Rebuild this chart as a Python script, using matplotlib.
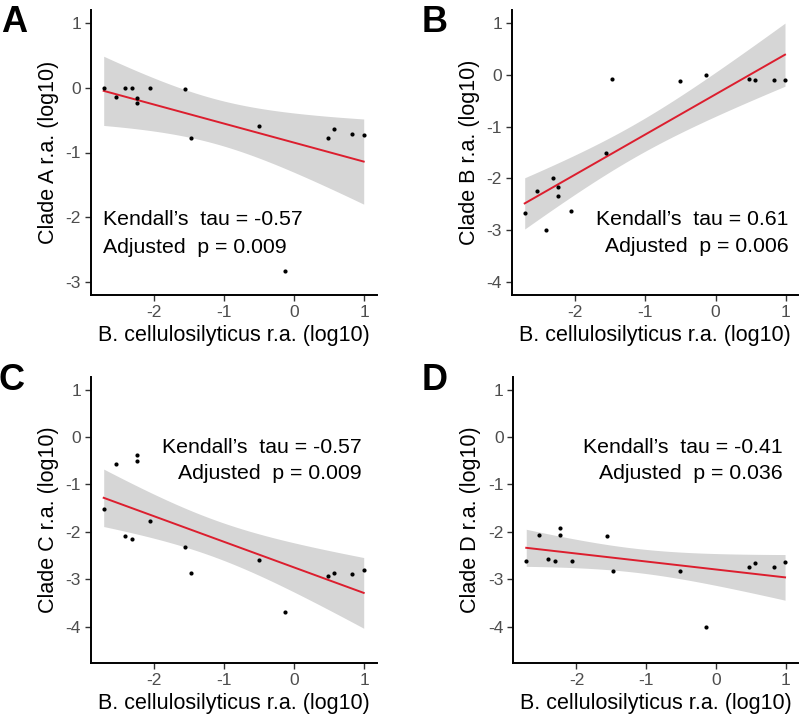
import numpy as np
import matplotlib
matplotlib.use("Agg")
import matplotlib.pyplot as plt

plt.rcParams['font.family'] = ['Liberation Sans', 'DejaVu Sans']

# shared x: B. cellulosilyticus r.a. (log10)
x_bcell = [-2.72, -2.54, -2.41, -2.31, -2.24, -2.24, -2.06, -1.56, -1.48,
           -0.51, -0.14, 0.48, 0.56, 0.83, 0.99]

clade_a = [0.0, -0.14, 0.0, 0.0, -0.16, -0.24, 0.0, -0.015, -0.78,
           -0.59, -2.83, -0.78, -0.64, -0.72, -0.73]
clade_b = [-2.66, -2.24, -3.0, -1.99, -2.16, -2.33, -2.62, -1.50, -0.08,
           -0.12, 0.0, -0.08, -0.11, -0.10, -0.10]
clade_c = [-1.52, -0.56, -2.08, -2.15, -0.37, -0.51, -1.78, -2.31, -2.86,
           -2.59, -3.70, -2.93, -2.86, -2.89, -2.80]
clade_d = [-2.61, -2.07, -2.58, -2.62, -1.91, -2.07, -2.62, -2.08, -2.83,
           -2.83, -4.00, -2.74, -2.66, -2.74, -2.64]

panel_letters = ["A", "B", "C", "D"]
clade_names = ["A", "B", "C", "D"]
taus = ["-0.57", "0.61", "-0.57", "-0.41"]
pvals = ["0.009", "0.006", "0.009", "0.036"]
ylims = [(-3, 1), (-4, 1), (-4.5, 1), (-4.5, 1)]
yticks = [[-3, -2, -1, 0, 1], [-4, -3, -2, -1, 0, 1],
          [-4, -3, -2, -1, 0, 1], [-4, -3, -2, -1, 0, 1]]
xticks = [-2, -1, 0, 1]

fig = plt.figure(figsize=(8, 7.15), dpi=100)

W, H = 800, 715
def rect(l, t, r, b):
    return [l / W, 1 - b / H, (r - l) / W, (b - t) / H]

rects = [rect(90.7, 10, 376.7, 295), rect(511.7, 10, 798, 295),
         rect(90.7, 376.7, 376.7, 663.3), rect(513.3, 376.7, 798, 663.3)]
ylab_x = [-0.149, -0.146, -0.149, -0.149]
letter_pos = [(14, 22), (435, 22), (12, 381), (435, 381)]
# annotation: (x, y_top_line, y_bottom_line, ha)
annot = [(-2.73, -2.04, -2.46, 'left'), (1.04, -2.80, -3.32, 'right'),
         (0.96, -0.22, -0.76, 'right'), (0.96, -0.22, -0.77, 'right')]

series = [clade_a, clade_b, clade_c, clade_d]
t_crit = 2.160  # t(0.975, df=13)

x = np.array(x_bcell)
for i, ys in enumerate(series):
    y = np.array(ys)
    ax = fig.add_axes(rects[i])
    n = len(x)
    xm = x.mean()
    sxx = ((x - xm) ** 2).sum()
    b1 = ((x - xm) * (y - y.mean())).sum() / sxx
    b0 = y.mean() - b1 * xm
    resid = y - (b0 + b1 * x)
    s = np.sqrt((resid ** 2).sum() / (n - 2))
    xs = np.linspace(x.min(), x.max(), 100)
    yh = b0 + b1 * xs
    se = s * np.sqrt(1 / n + (xs - xm) ** 2 / sxx)
    ax.fill_between(xs, yh - t_crit * se, yh + t_crit * se, color='#D6D6D6',
                    lw=0, zorder=1)
    ax.plot(xs, yh, color='#DC1E2E', lw=1.4, zorder=2)
    ax.scatter(x, y, s=9, color='black', zorder=3, lw=0)

    lo, hi = ylims[i]
    ey = (hi - lo) * 0.05
    ax.set_ylim(lo - ey, hi + ey)
    ax.set_xlim(-2.72 - 0.1855, 0.99 + 0.1855)
    ax.set_xticks(xticks)
    ax.set_yticks(yticks[i])
    ax.set_xticklabels([str(v) for v in xticks])
    ax.set_yticklabels([str(v) for v in yticks[i]])
    for sp in ['top', 'right']:
        ax.spines[sp].set_visible(False)
    for sp in ['left', 'bottom']:
        ax.spines[sp].set_linewidth(1.4)
        ax.spines[sp].set_color('black')
    ax.tick_params(axis='both', length=4, width=1.0, color='#333333',
                   labelsize=12.5, labelcolor='#4D4D4D', pad=3)
    ax.set_xlabel("B. cellulosilyticus r.a. (log10)", fontsize=15.5)
    ax.xaxis.label.set_va('center')
    ax.xaxis.set_label_coords(0.5, -0.142)
    ax.set_ylabel(f"Clade {clade_names[i]} r.a. (log10)", fontsize=15.5)
    ax.yaxis.label.set_va('center')
    ax.yaxis.set_label_coords(ylab_x[i], 0.5)

    ax_x, y1, y2, ha = annot[i]
    ax.text(ax_x, y1, f"Kendall\u2019s  tau = {taus[i]}", fontsize=15.3,
            ha=ha, va='center', zorder=4)
    ax.text(ax_x, y2, f"Adjusted  p = {pvals[i]}", fontsize=15.3,
            ha=ha, va='center', zorder=4)

    lx, ly = letter_pos[i]
    fig.text(lx / W, 1 - ly / H, panel_letters[i], fontsize=26,
             fontweight='bold', ha='center', va='center')

fig.savefig("out.png", dpi=100)
